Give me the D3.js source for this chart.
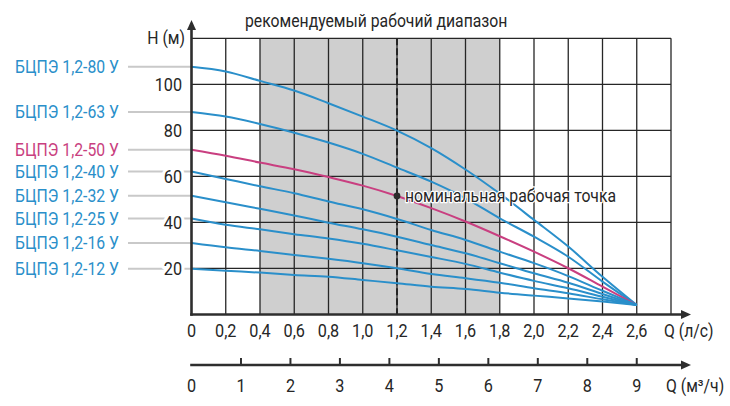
<!DOCTYPE html>
<html>
<head>
<meta charset="utf-8">
<script src="https://cdn.jsdelivr.net/npm/d3@7"></script>
<style>
  body { margin: 0; background: #fff; }
  text { font-family: Roboto, "Noto Sans", sans-serif; }
</style>
</head>
<body>
<div id="chart"></div>
<script>
// Q, l/s
const flow = [0, 0.2, 0.4, 0.6, 0.8, 1.0, 1.2, 1.4, 1.6, 1.8, 2.0, 2.2, 2.4, 2.6];

// H, m for each pump model
const head80 = [107.6, 105.6, 101.5, 97.3, 91.8, 86.0, 79.9, 72.3, 63.0, 52.5, 41.1, 29.5, 16.4, 4.1];
const head63 = [88.0, 86.0, 82.8, 79.0, 74.7, 69.8, 63.8, 57.7, 50.5, 41.8, 33.8, 25.1, 14.3, 4.1];
const head50 = [71.6, 69.0, 66.0, 63.1, 59.7, 56.0, 51.5, 46.2, 40.4, 34.0, 27.3, 20.1, 12.1, 4.1];
const head40 = [62.1, 58.9, 55.7, 52.7, 49.1, 45.7, 41.5, 36.7, 32.4, 27.3, 22.3, 16.7, 10.3, 4.1];
const head32 = [51.6, 48.8, 45.9, 43.0, 39.9, 37.0, 33.8, 30.2, 26.6, 22.3, 17.9, 13.8, 8.9, 4.1];
const head25 = [41.7, 39.0, 37.0, 34.9, 33.0, 30.7, 27.9, 25.0, 22.0, 18.2, 14.6, 11.4, 7.7, 4.1];
const head16 = [31.1, 29.2, 27.6, 25.9, 24.2, 22.3, 20.1, 17.6, 15.8, 13.8, 11.4, 9.2, 6.6, 4.1];
const head12 = [19.9, 19.0, 18.2, 17.2, 16.4, 15.0, 13.6, 12.1, 11.1, 9.5, 8.2, 7.0, 5.6, 4.1];

const models = ["БЦПЭ 1,2-80 У", "БЦПЭ 1,2-63 У", "БЦПЭ 1,2-50 У", "БЦПЭ 1,2-40 У",
                "БЦПЭ 1,2-32 У", "БЦПЭ 1,2-25 У", "БЦПЭ 1,2-16 У", "БЦПЭ 1,2-12 У"];
const heads = [head80, head63, head50, head40, head32, head25, head16, head12];
const highlighted = "БЦПЭ 1,2-50 У";

const recRange = [0.4, 1.8];       // recommended working range, l/s
const nominal = [1.2, 51.5];       // nominal working point (Q, H)

const flowTicks = [0, 0.2, 0.4, 0.6, 0.8, 1.0, 1.2, 1.4, 1.6, 1.8, 2.0, 2.2, 2.4, 2.6];
const headTicks = [20, 40, 60, 80, 100];
const m3hTicks = [0, 1, 2, 3, 4, 5, 6, 7, 8, 9];

const width = 730, height = 406;
const blue = "#2a8fca", pink = "#c93f80", ink = "#262626";
const fs = 17.5;          // font size; text is squeezed below to look condensed
const squeeze = 0.9;

const svg = d3.select("#chart").append("svg")
    .attr("width", width)
    .attr("height", height);

const x = d3.scaleLinear().domain([0, 2.8]).range([191.5, 671]);
const y = d3.scaleLinear().domain([0, 120]).range([314.5, 38.3]);
const x2 = d3.scaleLinear().domain([0, 9]).range([x(0), x(2.6)]);
const axis2Y = 365;

const fmt = d => d === 0 ? "0" : d3.format(".1f")(d).replace(".", ",");

// recommended range shading
svg.append("rect")
    .attr("x", x(recRange[0]))
    .attr("y", y(120))
    .attr("width", x(recRange[1]) - x(recRange[0]))
    .attr("height", y(0) - y(120))
    .attr("fill", "#cfcfcf");

// grid
const gridQ = d3.range(1, 15).map(i => i * 0.2);
svg.append("g").selectAll("line")
    .data(gridQ)
    .join("line")
    .attr("x1", d => x(d)).attr("x2", d => x(d))
    .attr("y1", y(0)).attr("y2", y(120))
    .attr("stroke", ink).attr("stroke-width", 1.3);

svg.append("g").selectAll("line")
    .data(headTicks.concat([120]))
    .join("line")
    .attr("x1", x(0)).attr("x2", x(2.8))
    .attr("y1", d => y(d)).attr("y2", d => y(d))
    .attr("stroke", ink).attr("stroke-width", 1.3);

// nominal flow dashed line
svg.append("line")
    .attr("x1", x(nominal[0])).attr("x2", x(nominal[0]))
    .attr("y1", y(120)).attr("y2", y(0))
    .attr("stroke", ink).attr("stroke-width", 2)
    .attr("stroke-dasharray", "7,3");

// leader lines from labels
svg.append("g").selectAll("line")
    .data(heads)
    .join("line")
    .attr("x1", 128).attr("x2", x(0))
    .attr("y1", d => y(d[0])).attr("y2", d => y(d[0]))
    .attr("stroke", "#c9c9c9").attr("stroke-width", 2);

// curves
const line = d3.line()
    .x((d, i) => x(flow[i]))
    .y(d => y(d))
    .curve(d3.curveMonotoneX);

svg.append("g").selectAll("path")
    .data(models.map((m, i) => ({ name: m, values: heads[i] })))
    .join("path")
    .attr("d", d => line(d.values))
    .attr("fill", "none")
    .attr("stroke", d => d.name === highlighted ? pink : blue)
    .attr("stroke-width", 2);

// axes lines + arrows
const axisColor = "#2e2e2e";
svg.append("line")
    .attr("x1", x(0)).attr("x2", x(0))
    .attr("y1", y(0) + 1.2).attr("y2", 28)
    .attr("stroke", axisColor).attr("stroke-width", 2.6);
svg.append("path")
    .attr("d", `M${x(0) - 4.5},30 L${x(0)},20 L${x(0) + 4.5},30 Z`)
    .attr("fill", axisColor);

[y(0), axis2Y].forEach(yy => {
    svg.append("line")
        .attr("x1", x(0) - 1.3).attr("x2", 683)
        .attr("y1", yy).attr("y2", yy)
        .attr("stroke", axisColor).attr("stroke-width", 2.6);
    svg.append("path")
        .attr("d", `M681,${yy - 4.5} L691,${yy} L681,${yy + 4.5} Z`)
        .attr("fill", axisColor);
});

// second axis ticks (m3/h)
svg.append("g").selectAll("line")
    .data(m3hTicks.slice(1))
    .join("line")
    .attr("x1", d => x2(d)).attr("x2", d => x2(d))
    .attr("y1", axis2Y).attr("y2", axis2Y - 7)
    .attr("stroke", axisColor).attr("stroke-width", 2);

// nominal point
svg.append("circle")
    .attr("cx", x(nominal[0])).attr("cy", y(nominal[1]))
    .attr("r", 3.4)
    .attr("fill", "#2a2a2a");

const halo = sel => sel
    .attr("stroke", "#fff")
    .attr("stroke-linejoin", "round")
    .attr("paint-order", "stroke");

svg.append("text")
    .attr("x", x(nominal[0]) + 8).attr("y", y(nominal[1]) + 6)
    .attr("font-size", fs).attr("fill", ink)
    .text("номинальная рабочая точка")
    .call(halo).attr("stroke-width", 2.5);

// title
svg.append("text")
    .attr("x", 245).attr("y", 27)
    .attr("font-size", fs).attr("fill", ink)
    .text("рекомендуемый рабочий диапазон");

// y axis labels
svg.append("text")
    .attr("x", 185).attr("y", 44)
    .attr("text-anchor", "end")
    .attr("font-size", fs).attr("fill", ink)
    .text("H (м)");

svg.append("g").selectAll("text")
    .data(headTicks)
    .join("text")
    .attr("x", 182).attr("y", d => y(d))
    .attr("dy", "0.36em")
    .attr("text-anchor", "end")
    .attr("font-size", 18).attr("fill", ink)
    .text(d => d)
    .call(halo).attr("stroke-width", 7);

// model labels
svg.append("g").selectAll("text")
    .data(models)
    .join("text")
    .attr("x", 119).attr("y", (d, i) => y(heads[i][0]))
    .attr("dy", "0.36em")
    .attr("text-anchor", "end")
    .attr("font-size", fs)
    .attr("fill", d => d === highlighted ? pink : blue)
    .text(d => d);

// x axis labels (l/s)
svg.append("g").selectAll("text")
    .data(flowTicks)
    .join("text")
    .attr("x", d => x(d)).attr("y", 337)
    .attr("text-anchor", "middle")
    .attr("font-size", 18).attr("fill", ink)
    .text(fmt);
svg.append("text")
    .attr("x", 664).attr("y", 337)
    .attr("font-size", fs).attr("fill", ink)
    .text("Q (л/с)");

// second axis labels (m3/h)
svg.append("g").selectAll("text")
    .data(m3hTicks)
    .join("text")
    .attr("x", d => x2(d)).attr("y", 392)
    .attr("text-anchor", "middle")
    .attr("font-size", 18).attr("fill", ink)
    .text(d => d);
svg.append("text")
    .attr("x", 666).attr("y", 392)
    .attr("font-size", fs).attr("fill", ink)
    .text("Q (м³/ч)");

// squeeze every label horizontally to mimic the condensed face
svg.selectAll("text").each(function () {
    const w = this.getComputedTextLength();
    d3.select(this)
        .attr("textLength", w * squeeze)
        .attr("lengthAdjust", "spacingAndGlyphs");
});
</script>
</body>
</html>
